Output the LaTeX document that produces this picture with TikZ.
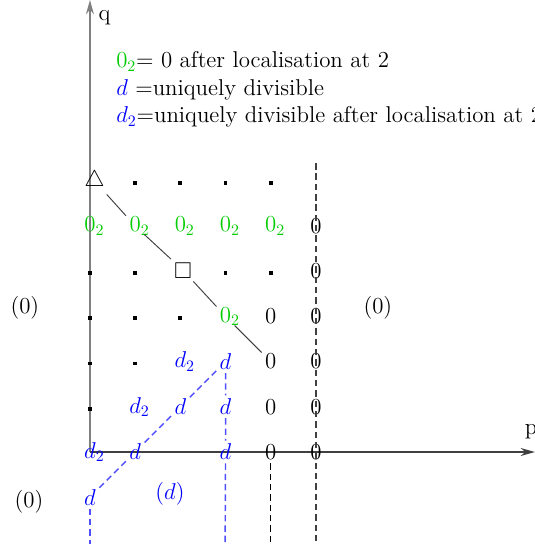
\documentclass[tikz,border=0pt]{standalone}
\usepackage{amssymb}
\usetikzlibrary{arrows.meta, positioning}
\definecolor{cGreen}{HTML}{00CC00}
\definecolor{cBlue}{HTML}{0000FF}
\definecolor{cBlueLine}{HTML}{4F4FFF}
\definecolor{cAxisV}{HTML}{808080}
\definecolor{cAxisH}{HTML}{404040}
\definecolor{cLine}{HTML}{404040}
\newcommand{\ztwo}{\textcolor{cGreen}{$0\rlap{$_2$}$}}
\newcommand{\dval}{\textcolor{cBlue}{$d$}}
\newcommand{\dtwo}{\textcolor{cBlue}{$d\rlap{$_2$}$}}

\begin{document}
\begin{tikzpicture}[
    font=\Large,
    % Grid entries
    lbl/.style={inner sep=2pt},
    pt/.style={rectangle, fill=black, minimum size=2.4pt, inner sep=0pt},
    legend/.style={anchor=base west, inner sep=0pt},
    % Axes and connectors
    axis/.style={-{Stealth[length=9pt, width=5pt]}, line width=1.1pt},
    diag/.style={color=cLine, line width=0.6pt},
    bdash/.style={color=cBlueLine, line width=0.9pt, dash pattern=on 4pt off 2.5pt},
    kdash/.style={color=black, line width=0.7pt, dash pattern=on 4pt off 2.5pt}
]
\useasboundingbox (-1.99,-2.035) rectangle (9.845,10.0);

% --- AXES ---
\coordinate (O) at (0,0);
\coordinate (qtop) at (0,10);
\coordinate (pend) at (9.845,0);
\draw[axis, color=cAxisV] (O) -- (qtop);
\draw[axis, color=cAxisH] (O) -- (pend);
\node (qlabel) at (0.32,9.6) {q};
\node (plabel) at (9.76,0.44) {p};

% --- LEGEND ---
\node[legend] (leg1) at (0.575,8.5) {\textcolor{cGreen}{$0_2$}= 0 after localisation at 2};
\node[legend] (leg2) at (0.575,7.88) {\dval{} =uniquely divisible};
\node[legend] (leg3) at (0.575,7.28) {\textcolor{cBlue}{$d_2$}=uniquely divisible after localisation at 2};

% --- GRID ---
% q = 6
\node[lbl] (tri) at (0.1,6) {$\triangle$};
\foreach \p in {1,...,4}
    \node[pt] (pt\p6) at (\p,5.96) {};
% q = 5
\foreach \p in {0,...,4}
    \node[lbl] (z\p5) at (\p,5) {\ztwo};
\node[lbl] (o55) at (5,5) {0};
% q = 4
\foreach \p in {0,1,3,4}
    \node[pt] (pt\p4) at (\p,3.96) {};
\node[lbl] (sq) at (2.06,4.02) {$\square$};
\node[lbl] (o54) at (5,4) {0};
% q = 3
\foreach \p in {0,1,2}
    \node[pt] (pt\p3) at (\p,2.96) {};
\node[lbl] (z33) at (3,3) {\ztwo};
\node[lbl] (o43) at (4,3) {0};
\node[lbl] (o53) at (5,3) {0};
% q = 2
\foreach \p in {0,1}
    \node[pt] (pt\p2) at (\p,1.96) {};
\node[lbl] (t22) at (2,2) {\dtwo};
\node[lbl] (d32) at (3,2) {\dval};
\node[lbl] (o42) at (4,2) {0};
\node[lbl] (o52) at (5,2) {0};
% q = 1
\node[pt] (pt01) at (0,0.96) {};
\node[lbl] (t11) at (1,1) {\dtwo};
\node[lbl] (d21) at (2,1) {\dval};
\node[lbl] (d31) at (3,1) {\dval};
\node[lbl] (o41) at (4,1) {0};
\node[lbl] (o51) at (5,1) {0};
% q = 0
\node[lbl] (t00) at (0,0) {\dtwo};
\node[lbl] (d10) at (1,0) {\dval};
\node[lbl] (d30) at (3,0) {\dval};
\node[lbl] (o40) at (4,0) {0};
\node[lbl] (o50) at (5,0) {0};
% q = -1
\node[lbl] (d0m) at (0,-1) {\dval};
\node[lbl] (dreg) at (1.77,-0.93) {\textcolor{cBlue}{$(d)$}};

% --- REGIONS ---
\node (zleft) at (-1.44,3.19) {(0)};
\node (zright) at (6.37,3.19) {(0)};
\node (zlow) at (-1.35,-1.1) {(0)};

% --- CONNECTORS ---
\coordinate (d3bot) at (2.99,-2.1);
\coordinate (d0bot) at (0,-2.1);
\coordinate (o4bot) at (4,-2.1);
\coordinate (k5top) at (5,6.39);
\coordinate (k5bot) at (5,-2.1);
\draw[diag] (tri) -- (z15) -- (sq) -- (z33) -- (o42);
\draw[bdash] (d32) -- (d21) -- (d10) -- (d0m);
\draw[bdash] (d32) -- (d31) -- (d30) -- (d3bot);
\draw[bdash] (d0m) -- (d0bot);
\draw[kdash] (o40) -- (o4bot);
\draw[kdash, color=cAxisH] (k5top) -- (k5bot);

\end{tikzpicture}
\end{document}
